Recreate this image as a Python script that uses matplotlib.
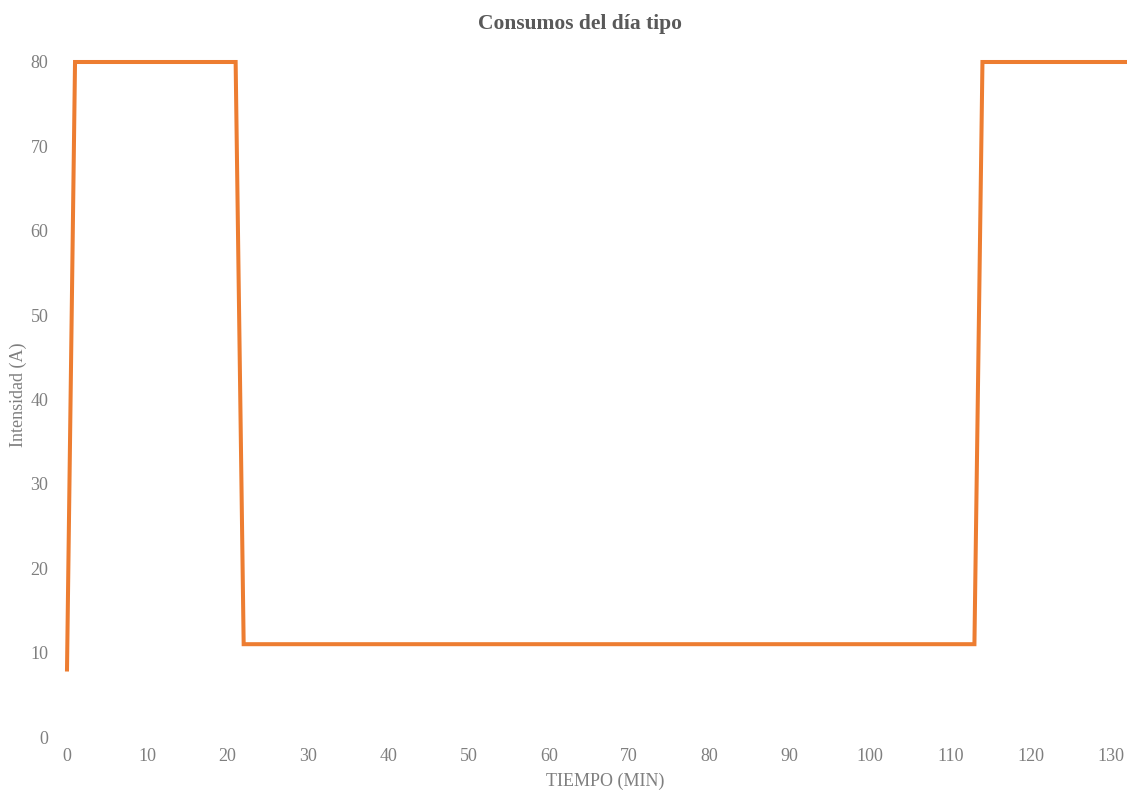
import matplotlib
matplotlib.use("Agg")
import matplotlib.pyplot as plt

# daily load profile, current vs time
tiempo = [0, 1, 21, 22, 113, 114, 132]
intensidad = [8, 80, 80, 11, 11, 80, 80]
xticks = list(range(0, 131, 10))
yticks = list(range(0, 81, 10))

plt.rcParams["font.family"] = ["Liberation Serif", "DejaVu Serif"]
gray = "#7f7f7f"

W, H = 1127, 790
fig = plt.figure(figsize=(W / 100, H / 100), dpi=100)
ax = fig.add_axes([67 / W, 53 / H, 1 - 67 / W, (737 - 62) / H])

ax.plot(tiempo, intensidad, color="#ED7D31", linewidth=2.9, clip_on=False,
        solid_joinstyle="miter")

ax.set_xlim(0, 132)
ax.set_ylim(0, 80)
ax.set_xticks(xticks)
ax.set_yticks(yticks)
for s in ax.spines.values():
    s.set_visible(False)
ax.tick_params(axis="both", length=0, labelsize=13, labelcolor=gray)
ax.tick_params(axis="y", pad=13.5)
ax.tick_params(axis="x", pad=8)

fig.text(605 / W, 1 - 781 / H, "TIEMPO (MIN)", ha="center", va="center",
         fontsize=13, color=gray)
fig.text(18 / W, 1 - 395 / H, "Intensidad (A)", ha="center", va="center",
         rotation=90, fontsize=13, color=gray)
fig.text(580 / W, 1 - 24 / H, "Consumos del día tipo", ha="center", va="center",
         fontsize=15.5, fontweight="bold", color="#595959")

fig.savefig("out.png", dpi=100)
